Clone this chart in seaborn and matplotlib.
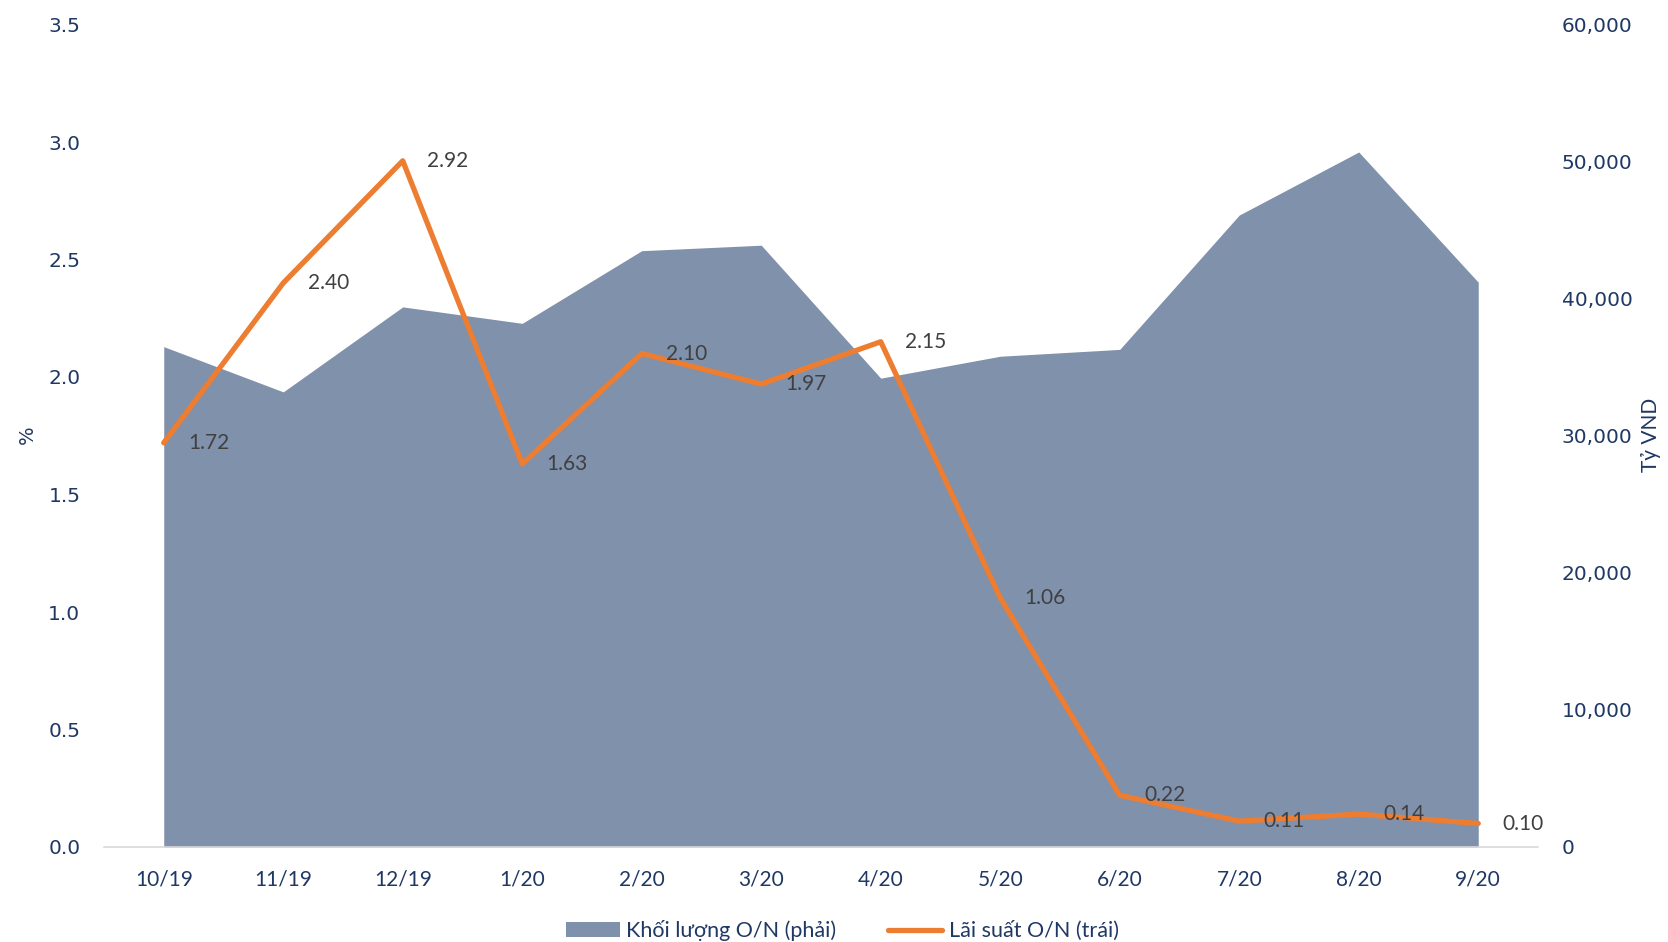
import matplotlib
matplotlib.use("Agg")
import matplotlib.pyplot as plt
import seaborn as sns
import numpy as np
import pandas as pd
from matplotlib.patches import Patch
from matplotlib.lines import Line2D

months = ["10/19", "11/19", "12/19", "1/20", "2/20", "3/20",
          "4/20", "5/20", "6/20", "7/20", "8/20", "9/20"]
rate_on = [1.72, 2.40, 2.92, 1.63, 2.10, 1.97, 2.15, 1.06, 0.22, 0.11, 0.14, 0.10]
volume_on = [36500, 33200, 39400, 38200, 43500, 43900,
             34200, 35800, 36300, 46100, 50700, 41200]

rate_ticks = [0.0, 0.5, 1.0, 1.5, 2.0, 2.5, 3.0, 3.5]
volume_ticks = [0, 10000, 20000, 30000, 40000, 50000, 60000]

AREA = "#8091AB"
ORANGE = "#ED7D31"
NAVY = "#1F3864"
LABEL = "#404040"
NARROW = ["Lato", "DejaVu Sans"]

sns.set_theme(style="white")
plt.rcParams["font.family"] = ["DejaVu Sans"]

df = pd.DataFrame({"x": np.arange(len(months)), "rate": rate_on, "volume": volume_on})

W, H = 1668, 942
fig = plt.figure(figsize=(W / 100, H / 100), dpi=100)
ax = fig.add_axes([104 / W, 95 / H, (1538 - 104) / W, (847 - 24.5) / H])
ax2 = ax.twinx()

# volume area on the right axis, kept behind the rate line
ax2.fill_between(df["x"], 0, df["volume"], color=AREA, linewidth=0)
ax2.set_zorder(0)
ax.set_zorder(1)
ax.patch.set_visible(False)

sns.lineplot(data=df, x="x", y="rate", ax=ax, color=ORANGE, linewidth=3.8,
             legend=False)

for xi, v in zip(df["x"], rate_on):
    ax.annotate(f"{v:.2f}", (xi, v), xytext=(45, 0), textcoords="offset pixels",
                ha="center", va="center", fontsize=15, color=LABEL,
                family=NARROW)

ax.set_xlim(-0.5, len(months) - 0.5)
ax.set_ylim(0, 3.5)
ax2.set_ylim(0, 60000)

ax.set_yticks(rate_ticks)
ax.set_yticklabels([f"{t:.1f}" for t in rate_ticks], fontsize=14.5, color=NAVY)
ax2.set_yticks(volume_ticks)
ax2.set_yticklabels([f"{t:,}" for t in volume_ticks], fontsize=14.5, color=NAVY)

ax.set_xticks(df["x"])
ax.set_xticklabels(months, fontsize=15, color=NAVY, family=NARROW)
ax.set_xticks(np.arange(-0.5, len(months), 1.0), minor=True)
ax.tick_params(axis="x", which="major", length=0, pad=16)
ax.tick_params(axis="x", which="minor", length=10, width=1, color="#D9D9D9",
               direction="out")
ax.tick_params(axis="y", length=0, pad=17)
ax2.tick_params(axis="y", length=0, pad=17)

for a in (ax, ax2):
    for s in ("top", "left", "right", "bottom"):
        a.spines[s].set_visible(False)
    a.grid(False)
ax.spines["bottom"].set_visible(True)
ax.spines["bottom"].set_color("#D9D9D9")
ax.spines["bottom"].set_linewidth(1.2)

ax.set_xlabel("")
ax.set_ylabel("")
ax2.set_ylabel("")
fig.text(27 / W, 1 - 435 / H, "%", rotation=90, ha="center", va="center",
         fontsize=14, color=NAVY)
fig.text(1651 / W, 1 - 435 / H, "Tỷ VND", rotation=90, ha="center", va="center",
         fontsize=15, color=NAVY, family=NARROW)

handles = [Patch(facecolor=AREA, edgecolor="none", label="Khối lượng O/N (phải)"),
           Line2D([0], [0], color=ORANGE, linewidth=3.8, label="Lãi suất O/N (trái)")]
leg = fig.legend(handles=handles, loc="center", bbox_to_anchor=(0.505, 0.012),
                 ncol=2, frameon=False, handlelength=2.5, handleheight=0.7,
                 handletextpad=0.3, columnspacing=2.4,
                 prop={"family": NARROW, "size": 15.5})
for t in leg.get_texts():
    t.set_color(NAVY)

fig.savefig("out.png", dpi=100)
